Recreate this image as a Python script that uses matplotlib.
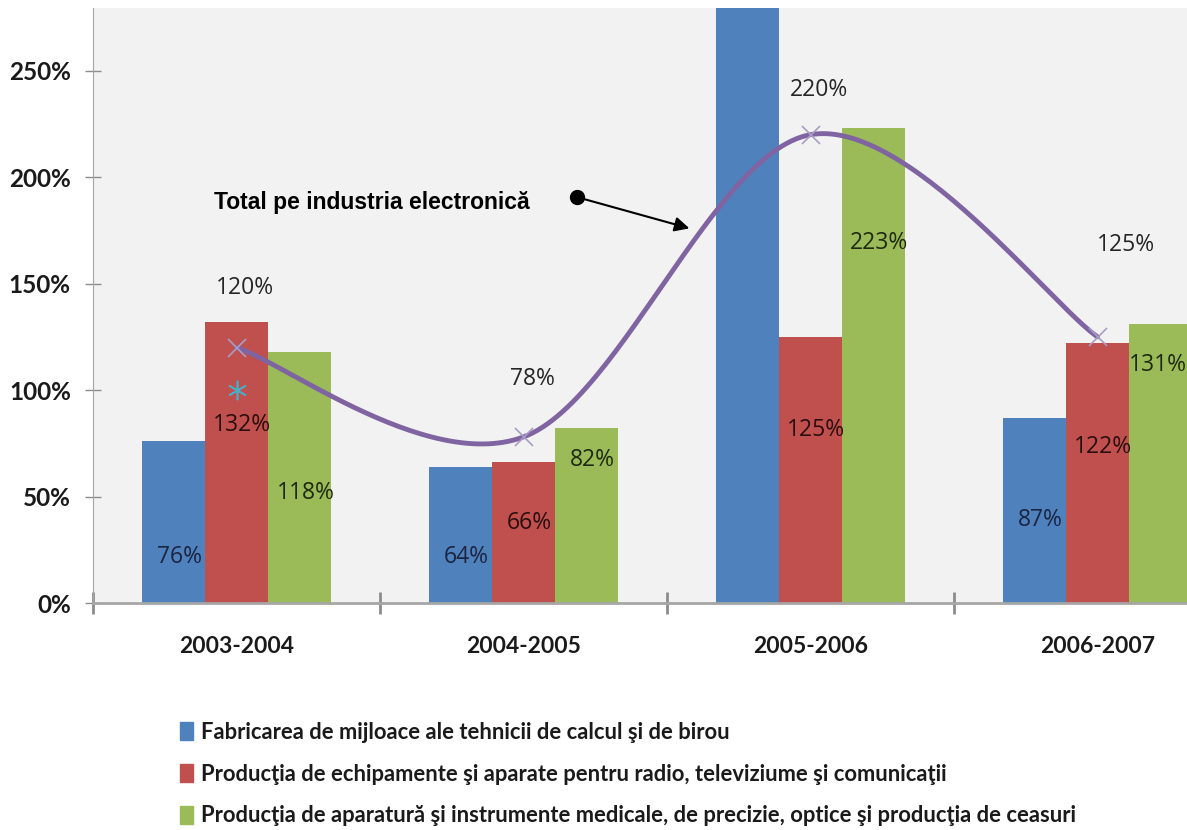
import numpy as np
import matplotlib
matplotlib.use("Agg")
import matplotlib.pyplot as plt
import matplotlib.patches as mpatches
from matplotlib.ticker import FuncFormatter

# DATE
perioade = ["2003-2004", "2004-2005", "2005-2006", "2006-2007"]
calcul_birou = [76, 64, 330, 87]
radio_tv = [132, 66, 125, 122]
aparatura = [118, 82, 223, 131]
total = [120, 78, 220, 125]
referinta = [100]

serii = [
    "Fabricarea de mijloace ale tehnicii de calcul şi de birou",
    "Producţia de echipamente şi aparate pentru radio, televiziume şi comunicaţii",
    "Producţia de aparatură şi instrumente medicale, de precizie, optice şi producţia de ceasuri",
]

# inaltimea etichetelor pe bare (in %)
poz_calcul = [21.6, 21.6, 400, 39]
poz_radio = [83.6, 37.6, 81.2, 73.2]
poz_aparatura = [51.6, 67, 169, 111.7]
poz_total = [148, 105, 241, 168]

culori = ["#4F81BD", "#C0504D", "#9BBB59"]
mov = "#8064A2"
YMAX = 279.5


def bezier_excel(xs, ys, n=60):
    # netezire tip Excel: Bezier cubic cu tangente Catmull-Rom
    pts = np.column_stack([xs, ys]).astype(float)
    ext = np.vstack([pts[0], pts, pts[-1]])
    out = []
    for i in range(len(pts) - 1):
        p0, p3 = pts[i], pts[i + 1]
        p1 = p0 + (ext[i + 2] - ext[i]) / 6
        p2 = p3 - (ext[i + 3] - ext[i + 1]) / 6
        t = np.linspace(0, 1, n)[:, None]
        b = (1 - t) ** 3 * p0 + 3 * (1 - t) ** 2 * t * p1 + 3 * (1 - t) * t ** 2 * p2 + t ** 3 * p3
        out.append(b)
    b = np.vstack(out)
    return b[:, 0], b[:, 1]


fig = plt.figure(figsize=(11.87, 8.30), dpi=100)
ax = fig.add_axes([93 / 1187, 227 / 830, 1148 / 1187, 595 / 830])
ax.set_facecolor("#F2F2F2")

x = np.arange(len(perioade))
w = 0.22
valori = [calcul_birou, radio_tv, aparatura]
pozitii = [poz_calcul, poz_radio, poz_aparatura]
culori_text = ["#1b2440", "#2a0e0e", "#1e2a10"]

for k, (vals, poz) in enumerate(zip(valori, pozitii)):
    xx = x + (k - 1) * w
    ax.bar(xx, vals, width=w, color=culori[k], zorder=2)
    for xi, v, py in zip(xx, vals, poz):
        if py > YMAX:
            continue
        dx = -0.01 if xi > 3.1 else 0.02
        ax.text(xi + dx, py, f"{v}%", ha="center", va="center", fontsize=16.5,
                family="Open Sans", color=culori_text[k], zorder=4)

# linia totalului
sx, sy = bezier_excel(x, total)
ax.plot(sx, sy, color=mov, lw=3.5, zorder=3, solid_capstyle="round")
ax.plot(x, total, ls="none", marker="x", ms=13, mew=1.2, color="#a99cc4", zorder=3)
ax.plot([0], referinta, ls="none", marker=(6, 2, 0), ms=14, mew=1.2, color="#4BACC6", zorder=3)
for xi, v, py in zip(x, total, poz_total):
    dx = 0.1 if xi == 3 else 0.03
    ax.text(xi + dx, py, f"{v}%", ha="center", va="center", fontsize=16.5,
            family="Open Sans", color="#262626", zorder=4)

# adnotare
ax.text(-0.077, 188, "Total pe industria electronică", ha="left", va="center",
        fontsize=16.5, fontweight="bold", family="Liberation Sans", color="black")
ax.plot([1.188], [190.6], marker="o", ms=10, color="black", zorder=5)
ax.annotate("", xy=(1.578, 176), xytext=(1.188, 190.6),
            arrowprops=dict(arrowstyle="-|>", color="black", lw=1.5,
                            mutation_scale=22, shrinkA=0, shrinkB=0), zorder=5)

ax.set_xlim(-0.5, 3.5)
ax.set_ylim(0, YMAX)
ax.set_yticks(range(0, 251, 50))
ax.yaxis.set_major_formatter(FuncFormatter(lambda v, p: f"{v:.0f}%"))
ax.set_xticks(x)
ax.set_xticklabels(perioade)
ax.set_xticks([-0.5, 0.5, 1.5, 2.5], minor=True)
ax.tick_params(axis="x", which="major", length=0, pad=24, labelsize=16.5)
ax.tick_params(axis="x", which="minor", direction="inout", length=16, width=2, color="#8c8c8c")
ax.tick_params(axis="y", direction="inout", length=12, width=1, color="#8c8c8c",
               labelsize=17.5, pad=10)
for lbl in ax.get_xticklabels() + ax.get_yticklabels():
    lbl.set_family("Lato")
    lbl.set_fontweight("bold")
    lbl.set_color("#1a1a1a")

for s in ["top", "right"]:
    ax.spines[s].set_visible(False)
ax.spines["left"].set_color("#a6a6a6")
ax.spines["bottom"].set_color("#a6a6a6")
ax.spines["bottom"].set_linewidth(2)

handles = [mpatches.Patch(color=c, label=s) for c, s in zip(culori, serii)]
leg = fig.legend(handles=handles, loc="upper left", bbox_to_anchor=(160 / 1187, 1 - 702 / 830),
                 frameon=False, labelspacing=0.95, handlelength=0.6, handleheight=0.9,
                 handletextpad=0.35, prop=dict(family="Lato", weight="bold", size=15.8))
for t in leg.get_texts():
    t.set_color("#1a1a1a")

fig.savefig("out.png", dpi=100, facecolor="white")
